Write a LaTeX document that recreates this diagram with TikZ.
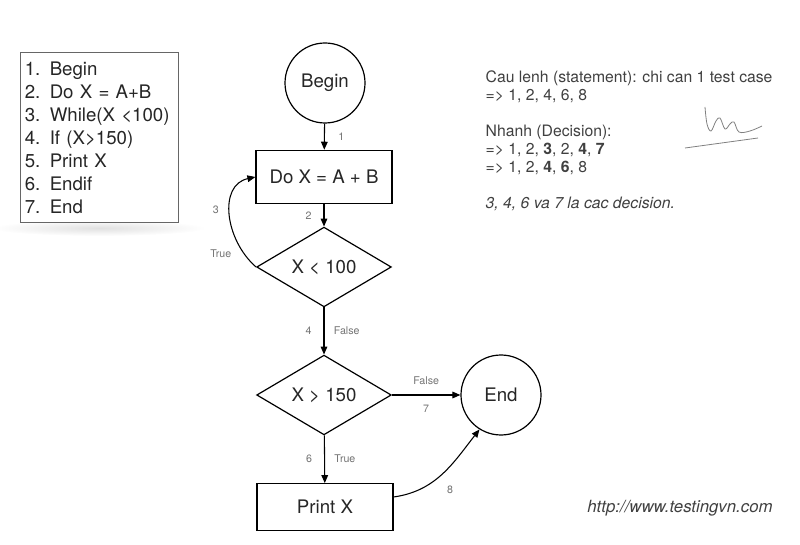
\documentclass[tikz,border=0pt]{standalone}
\usepackage{fontspec}
\setmainfont{TeX Gyre Heros}
\usetikzlibrary{shapes.geometric,arrows.meta,positioning}

\begin{document}
\begin{tikzpicture}[x=0.75pt, y=-0.75pt,
  every node/.style={font=\fontsize{14}{17}\selectfont, text=black!85},
  term/.style={draw, circle, minimum size=60pt, inner sep=0pt, line width=0.9pt},
  stepbox/.style={draw, minimum width=102pt, minimum height=40pt, line width=0.9pt},
  cond/.style={draw, diamond, minimum width=101pt, minimum height=58pt, inner sep=0pt, line width=0.9pt},
  lbl/.style={font=\fontsize{8}{9}\selectfont, text=black!55, inner sep=1pt},
  flow/.style={-{Triangle[length=6pt,width=5pt]}, line width=0.8pt}]
\useasboundingbox (0,0) rectangle (800,545);

% pseudo code
\shade[inner color=black!12, outer color=white] (99,228) ellipse [x radius=80pt, y radius=6pt];
\node[draw=black!60, fill=white, line width=0.8pt, anchor=north west, minimum width=118.5pt, minimum height=127.5pt,
  align=left, text width=112pt, inner xsep=3pt, font=\fontsize{14}{17.25}\selectfont] (code) at (20,52)
  {1. Begin\\2. Do X = A+B\\3. While(X <100)\\4. If (X>150)\\5. Print X\\6. Endif\\7. End};

% flowchart
\node[term] (begin) at (325,83) {Begin};
\node[stepbox] (dox) at (324,177) {Do X = A + B};
\node[cond] (lt) at (324,267) {X < 100};
\node[cond] (gt) at (324,395) {X > 150};
\node[term] (end) at (501,395) {End};
\node[stepbox, minimum height=35pt] (print) at (325,507) {Print X};

\draw[flow] (begin) -- (dox) node[lbl, midway, right=9pt] (l1) {1};
\draw[flow] (dox) -- (lt) node[lbl, midway, left=8pt] (l2) {2};
\draw[flow] (lt.west) .. controls (225,240) and (218,185) .. (dox.west)
  node[lbl, pos=.55, left=7pt] (l3) {3}
  node[lbl, pos=.15, left=8pt] (ltrue) {True};
\draw[flow] (lt) -- (gt) node[lbl, midway, left=8pt] (l4) {4}
  node[lbl, midway, right=6pt] (lfalse) {False};
\draw[flow] (gt) -- (end) node[lbl, midway, above=6pt] (gfalse) {False}
  node[lbl, midway, below=6pt] (l7) {7};
\draw[flow] (gt) -- (print) node[lbl, midway, left=8pt] (l6) {6}
  node[lbl, midway, right=6pt] (gtrue) {True};
\draw[flow] ([yshift=7.5pt]print.east) to[out=8, in=-128]
  node[lbl, pos=.45, below right=7pt] (l8) {8} (end.-122);

% notes
\node[anchor=north west, align=left, text=black!75, font=\fontsize{11.8}{13.5}\selectfont] (notes) at (481,66)
  {Cau lenh (statement): chi can 1 test case\\
   => 1, 2, 4, 6, 8\\[13.5pt]
   Nhanh (Decision):\\
   => 1, 2, \textbf{3}, 2, \textbf{4}, \textbf{7}\\
   => 1, 2, \textbf{4}, \textbf{6}, 8\\[13.5pt]
   \textit{3, 4, 6 va 7 la cac decision.}};

% signature
\draw[black!50, line width=0.6pt] plot[smooth, tension=0.6] coordinates
  {(705,107) (707,124) (711,131) (716,121) (720,118) (725,129) (730,124) (734,122) (739,132) (750,131) (762,126)};
\draw[black!50, line width=0.6pt] (685,148) -- (758,138);

\node[font=\fontsize{12.6}{14}\selectfont\itshape, text=black!75] (url) at (680,508) {http://www.testingvn.com};
\end{tikzpicture}
\end{document}
